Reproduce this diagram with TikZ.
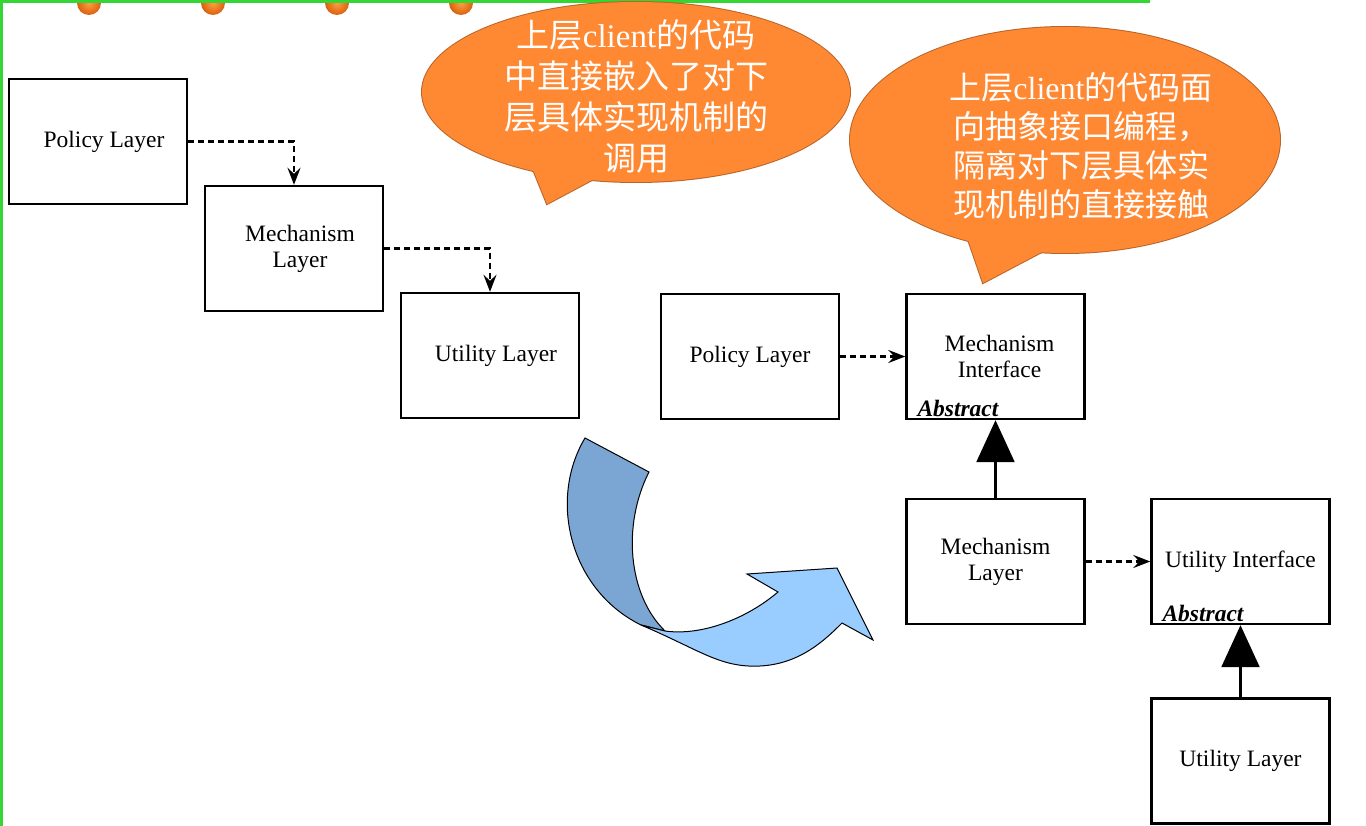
\documentclass[tikz,border=0pt]{standalone}
\usepackage{fontspec}
\setmainfont{Liberation Serif}
\newfontfamily\cjk{Noto Sans CJK SC}
\usetikzlibrary{arrows.meta}
\definecolor{slidegreen}{HTML}{33D633}
\definecolor{calloutfill}{HTML}{FF8833}
\definecolor{calloutline}{HTML}{B8652A}
\definecolor{ribbondark}{HTML}{7BA6D3}
\definecolor{ribbonlight}{HTML}{99CCFF}
\definecolor{dotinner}{HTML}{FFA040}
\definecolor{dotouter}{HTML}{D86010}

\begin{document}
\begin{tikzpicture}[x=1pt, y=-1pt,
  layer/.style={draw, line width=2.4pt, minimum width=178pt, minimum height=125pt, inner sep=0pt, align=center, font=\fontsize{23.5}{26}\selectfont},
  abstract/.style={anchor=south west, inner sep=0pt, font=\fontsize{23.5}{26}\selectfont\bfseries\itshape},
  uses/.style={draw, line width=2.2pt, dash pattern=on 6pt off 4pt, -{Stealth[length=17pt, width=13pt, inset=6pt]}},
  inherits/.style={draw, line width=2.4pt, -{Triangle[length=42pt, width=38pt]}},
  callouttext/.style={text=white, align=center, inner sep=0pt, font=\fontsize{33}{41}\selectfont\cjk},
]
\useasboundingbox (0,0) rectangle (1366,826);

% slide frame
\foreach \x in {89,213,337,461}
  \shade[inner color=dotinner, outer color=dotouter] (\x,3) circle (12);
\draw[slidegreen, line width=3pt] (0,1.5) -- (1150,1.5);
\draw[slidegreen, line width=3pt] (1.5,0) -- (1.5,826);

% direct layering
\node[layer] (pl1) at (98,141.5) {\hspace*{12pt}Policy Layer};
\node[layer] (ml1) at (294,248.5) {\hspace*{12pt}Mechanism\\\hspace*{12pt}Layer};
\node[layer] (ul1) at (490,355.5) {\hspace*{12pt}Utility Layer};
\draw[uses] (pl1.east) -| (ml1.north);
\draw[uses] (ml1.east) -| (ul1.north);

% inverted layering
\node[layer] (pl2) at (750,356.5) {Policy Layer};
\node[layer] (mi) at (995.5,356.5) {\hspace*{8pt}Mechanism\\\hspace*{8pt}Interface};
\node[abstract, xshift=12pt, yshift=3pt] (mia) at (mi.south west) {Abstract};
\node[layer] (ml2) at (995.5,561.5) {Mechanism\\Layer};
\node[layer] (ui) at (1240.5,561.5) {Utility Interface};
\node[abstract, xshift=12pt, yshift=3pt] (uia) at (ui.south west) {Abstract};
\node[layer] (ul2) at (1240.5,761) {Utility Layer};
\draw[uses] (pl2.east) -- (mi.west);
\draw[uses] (ml2.east) -- (ui.west);
\draw[inherits] (ml2.north) -- (mi.south);
\draw[inherits] (ul2.north) -- (ui.south);

% ribbon arrow
\draw[fill=ribbondark, line width=1pt] (585,438) -- (649,472)
  .. controls (622,525) and (628,595) .. (665,631) -- (641,625)
  .. controls (570,590) and (548,500) .. (585,438) -- cycle;
\draw[fill=ribbonlight, line width=1pt] (641,625)
  .. controls (700,650) and (720,668) .. (760,666)
  .. controls (800,664) and (825,640) .. (842,623)
  -- (873,640) -- (837,568) -- (747,574) -- (778,592)
  .. controls (745,620) and (700,636) .. (665,631) -- cycle;

% callouts: outline first, then fill on top
\draw[calloutline, line width=2pt] (636,92) ellipse (214 and 90);
\draw[calloutline, line width=2pt] (530,162) -- (547,204) -- (607,172) -- cycle;
\fill[calloutfill] (636,92) ellipse (214 and 90);
\fill[calloutfill] (530,162) -- (547,204) -- (607,172) -- cycle;
\node[callouttext] (note1) at (636,96) {上层{\rmfamily client}的代码\\中直接嵌入了对下\\层具体实现机制的\\调用};

\draw[calloutline, line width=2pt] (1065,140) ellipse (215 and 113);
\draw[calloutline, line width=2pt] (964,228) -- (983,283) -- (1055,245) -- cycle;
\fill[calloutfill] (1065,140) ellipse (215 and 113);
\fill[calloutfill] (964,228) -- (983,283) -- (1055,245) -- cycle;
\node[callouttext, font=\fontsize{32}{39}\selectfont\cjk] (note2) at (1081,146) {上层{\rmfamily client}的代码面\\向抽象接口编程，\\隔离对下层具体实\\现机制的直接接触};
\end{tikzpicture}
\end{document}
